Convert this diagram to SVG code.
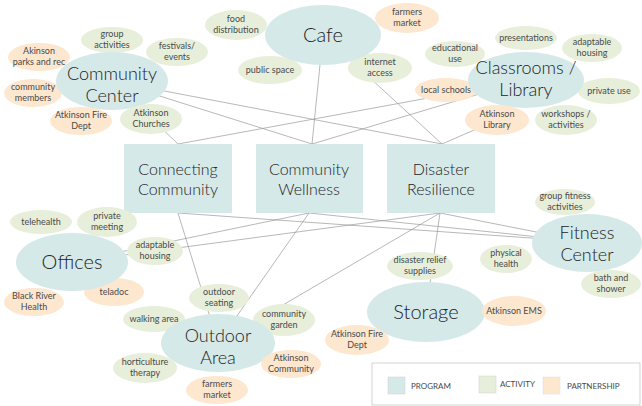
<svg xmlns="http://www.w3.org/2000/svg" width="642" height="406" viewBox="0 0 642 406">
<style>
.bg{fill:#ffffff}
.prog{fill:#d5e9e8}
.act{fill:#e7efdb}
.part{fill:#fde7cf}
.big{font-family:Lato,"Open Sans","Liberation Sans",sans-serif;font-size:20px;font-weight:300;fill:#1e2225;text-anchor:middle}
.big2{font-family:Lato,"Open Sans","Liberation Sans",sans-serif;font-size:18px;font-weight:300;fill:#1e2225;text-anchor:middle}
.box{font-family:Lato,"Open Sans","Liberation Sans",sans-serif;font-size:16px;font-weight:300;fill:#1e2225;text-anchor:middle}
.sm{font-family:Lato,"Open Sans","Liberation Sans",sans-serif;font-size:9px;fill:#4a4a4a;text-anchor:middle}
.leg{font-family:Lato,"Open Sans","Liberation Sans",sans-serif;font-size:8px;fill:#4a4a4a}
#connectors line{stroke:#9a9a9a;stroke-width:0.7;fill:none}
</style>
<rect class="bg" x="0" y="0" width="642" height="406"/>
<g id="connectors">
<line x1="112" y1="81" x2="178" y2="144"/>
<line x1="112" y1="81" x2="312" y2="144"/>
<line x1="112" y1="81" x2="442" y2="144"/>
<line x1="323" y1="35" x2="312" y2="144"/>
<line x1="323" y1="35" x2="442" y2="144"/>
<line x1="526" y1="80" x2="178" y2="144"/>
<line x1="526" y1="80" x2="312" y2="144"/>
<line x1="497" y1="120" x2="442" y2="144"/>
<line x1="178" y1="213" x2="218" y2="343"/>
<line x1="178" y1="213" x2="587" y2="242"/>
<line x1="309" y1="213" x2="72" y2="262"/>
<line x1="309" y1="213" x2="218" y2="343"/>
<line x1="309" y1="213" x2="587" y2="242"/>
<line x1="440" y1="213" x2="72" y2="262"/>
<line x1="440" y1="213" x2="218" y2="343"/>
<line x1="440" y1="213" x2="426" y2="311"/>
<line x1="440" y1="213" x2="587" y2="242"/>
</g>

<g id="cafe-group">
<g id="food-distribution"><ellipse class="act" cx="236" cy="25" rx="31" ry="15"/><text class="sm" x="236" y="22">food<tspan x="236" dy="11">distribution</tspan></text></g>
<g id="public-space"><ellipse class="act" cx="270" cy="70" rx="32" ry="14"/><text class="sm" x="270" y="73">public space</text></g>
<g id="internet-access"><ellipse class="act" cx="380" cy="68" rx="32" ry="15"/><text class="sm" x="380" y="65">internet<tspan x="380" dy="11">access</tspan></text></g>
<g id="farmers-market-cafe"><ellipse class="part" cx="407" cy="18" rx="32" ry="15"/><text class="sm" x="407" y="15">farmers<tspan x="407" dy="11">market</tspan></text></g>
<g id="cafe"><ellipse class="prog" cx="323" cy="35" rx="58" ry="30"/><text class="big" x="323" y="42">Cafe</text></g>
</g>

<g id="community-center-group">
<g id="group-activities"><ellipse class="act" cx="112" cy="40" rx="31" ry="13"/><text class="sm" x="112" y="37">group<tspan x="112" dy="11">activities</tspan></text></g>
<g id="festivals-events"><ellipse class="act" cx="177" cy="52" rx="31" ry="14"/><text class="sm" x="177" y="49">festivals/<tspan x="177" dy="11">events</tspan></text></g>
<g id="akinson-parks"><ellipse class="part" cx="39" cy="57" rx="31" ry="14"/><text class="sm" x="39" y="54">Akinson<tspan x="39" dy="11">parks and rec</tspan></text></g>
<g id="community-members"><ellipse class="part" cx="33" cy="93" rx="29" ry="14"/><text class="sm" x="33" y="90">community<tspan x="33" dy="11">members</tspan></text></g>
<g id="atkinson-fire-dept-cc"><ellipse class="part" cx="81" cy="121" rx="31" ry="14"/><text class="sm" x="81" y="118">Atkinson Fire<tspan x="81" dy="11">Dept</tspan></text></g>
<g id="community-center"><ellipse class="prog" cx="112" cy="81" rx="56" ry="29"/><text class="big2" x="112" y="80">Community<tspan x="112" dy="22">Center</tspan></text></g>
<g id="atkinson-churches"><ellipse class="act" cx="151" cy="119" rx="31" ry="15"/><text class="sm" x="151" y="116">Atkinson<tspan x="151" dy="11">Churches</tspan></text></g>
</g>

<g id="classrooms-group">
<g id="educational-use"><ellipse class="act" cx="455" cy="54" rx="30" ry="13"/><text class="sm" x="455" y="51">educational<tspan x="455" dy="11">use</tspan></text></g>
<g id="presentations"><ellipse class="act" cx="526" cy="38" rx="31" ry="12"/><text class="sm" x="526" y="41">presentations</text></g>
<g id="adaptable-housing-cl"><ellipse class="act" cx="592" cy="48" rx="30" ry="14"/><text class="sm" x="592" y="45">adaptable<tspan x="592" dy="11">housing</tspan></text></g>
<g id="local-schools"><ellipse class="part" cx="446" cy="90" rx="31" ry="12"/><text class="sm" x="446" y="93">local schools</text></g>
<g id="private-use"><ellipse class="act" cx="609" cy="91" rx="31" ry="13"/><text class="sm" x="609" y="94">private use</text></g>
<g id="classrooms-library"><ellipse class="prog" cx="526" cy="80" rx="58" ry="28"/><text class="big2" x="526" y="74">Classrooms /<tspan x="526" dy="22">Library</tspan></text></g>
<g id="atkinson-library"><ellipse class="part" cx="497" cy="120" rx="32" ry="15"/><text class="sm" x="497" y="117">Atkinson<tspan x="497" dy="11">Library</tspan></text></g>
<g id="workshops"><ellipse class="act" cx="566" cy="120" rx="31" ry="15"/><text class="sm" x="566" y="117">workshops /<tspan x="566" dy="11">activities</tspan></text></g>
</g>

<g id="connecting-community"><rect class="prog" x="124" y="144" width="108" height="69"/><text class="box" x="178" y="175">Connecting<tspan x="178" dy="20">Community</tspan></text></g>
<g id="community-wellness"><rect class="prog" x="256" y="144" width="107" height="69"/><text class="box" x="309" y="175">Community<tspan x="309" dy="20">Wellness</tspan></text></g>
<g id="disaster-resilience"><rect class="prog" x="387" y="144" width="108" height="69"/><text class="box" x="441" y="175">Disaster<tspan x="441" dy="20">Resilience</tspan></text></g>

<g id="offices-group">
<g id="telehealth"><ellipse class="act" cx="41" cy="222" rx="31" ry="12"/><text class="sm" x="41" y="225">telehealth</text></g>
<g id="private-meeting"><ellipse class="act" cx="107" cy="222" rx="30" ry="15"/><text class="sm" x="107" y="219">private<tspan x="107" dy="11">meeting</tspan></text></g>
<g id="teladoc"><ellipse class="part" cx="114" cy="292" rx="30" ry="14"/><text class="sm" x="114" y="295">teladoc</text></g>
<g id="offices"><ellipse class="prog" cx="72" cy="262" rx="56" ry="29"/><text class="big" x="72" y="269">Offices</text></g>
<g id="adaptable-housing-of"><ellipse class="act" cx="155" cy="251" rx="28" ry="14"/><text class="sm" x="155" y="248">adaptable<tspan x="155" dy="11">housing</tspan></text></g>
<g id="black-river-health"><ellipse class="part" cx="34" cy="302" rx="30" ry="14"/><text class="sm" x="34" y="299">Black River<tspan x="34" dy="11">Health</tspan></text></g>
</g>

<g id="fitness-group">
<g id="group-fitness"><ellipse class="act" cx="565" cy="202" rx="30" ry="13"/><text class="sm" x="565" y="199">group fitness<tspan x="565" dy="11">activities</tspan></text></g>
<g id="fitness-center"><ellipse class="prog" cx="587" cy="243" rx="55" ry="29"/><text class="big2" x="587" y="239">Fitness<tspan x="587" dy="22">Center</tspan></text></g>
<g id="physical-health"><ellipse class="act" cx="506" cy="259" rx="26" ry="14"/><text class="sm" x="506" y="256">physical<tspan x="506" dy="11">health</tspan></text></g>
<g id="bath-shower"><ellipse class="act" cx="611" cy="284" rx="30" ry="14"/><text class="sm" x="611" y="281">bath and<tspan x="611" dy="11">shower</tspan></text></g>
</g>

<g id="storage-group">
<g id="disaster-relief"><ellipse class="act" cx="420" cy="266" rx="33" ry="14"/><text class="sm" x="420" y="263">disaster relief<tspan x="420" dy="11">supplies</tspan></text></g>
<g id="storage"><ellipse class="prog" cx="426" cy="312" rx="59" ry="30"/><text class="big" x="426" y="319">Storage</text></g>
<g id="atkinson-ems"><ellipse class="part" cx="514" cy="311" rx="32" ry="15"/><text class="sm" x="514" y="314">Atkinson EMS</text></g>
<g id="atkinson-fire-dept-st"><ellipse class="part" cx="357" cy="340" rx="32" ry="15"/><text class="sm" x="357" y="337">Atkinson Fire<tspan x="357" dy="11">Dept</tspan></text></g>
</g>

<g id="outdoor-group">
<g id="outdoor-seating"><ellipse class="act" cx="219" cy="298" rx="30" ry="14"/><text class="sm" x="219" y="295">outdoor<tspan x="219" dy="11">seating</tspan></text></g>
<g id="walking-area"><ellipse class="act" cx="154" cy="319" rx="31" ry="13"/><text class="sm" x="154" y="322">walking area</text></g>
<g id="community-garden"><ellipse class="act" cx="284" cy="320" rx="31" ry="16"/><text class="sm" x="284" y="317">community<tspan x="284" dy="11">garden</tspan></text></g>
<g id="outdoor-area"><ellipse class="prog" cx="218" cy="343" rx="57" ry="29"/><text class="big2" x="218" y="342">Outdoor<tspan x="218" dy="22">Area</tspan></text></g>
<g id="horticulture"><ellipse class="act" cx="145" cy="368" rx="32" ry="15"/><text class="sm" x="145" y="365">horticulture<tspan x="145" dy="11">therapy</tspan></text></g>
<g id="atkinson-community"><ellipse class="part" cx="291" cy="364" rx="30" ry="14"/><text class="sm" x="291" y="361">Atkinson<tspan x="291" dy="11">Community</tspan></text></g>
<g id="farmers-market-out"><ellipse class="part" cx="217" cy="390" rx="31" ry="14"/><text class="sm" x="217" y="387">farmers<tspan x="217" dy="11">market</tspan></text></g>
</g>

<g id="legend">
<rect x="372" y="363" width="268" height="42" fill="#ffffff" stroke="#c8c8c8" stroke-width="0.8"/>
<rect class="prog" x="388" y="377" width="17" height="17" stroke="#d0d0d0" stroke-width="0.5"/>
<text class="leg" x="411" y="389">PROGRAM</text>
<rect class="act" x="479" y="376" width="17" height="17" stroke="#d0d0d0" stroke-width="0.5"/>
<text class="leg" x="500" y="387">ACTIVITY</text>
<rect class="part" x="543" y="377" width="17" height="17" stroke="#e0e0e0" stroke-width="0.5"/>
<text class="leg" x="567" y="389">PARTNERSHIP</text>
</g>
</svg>
